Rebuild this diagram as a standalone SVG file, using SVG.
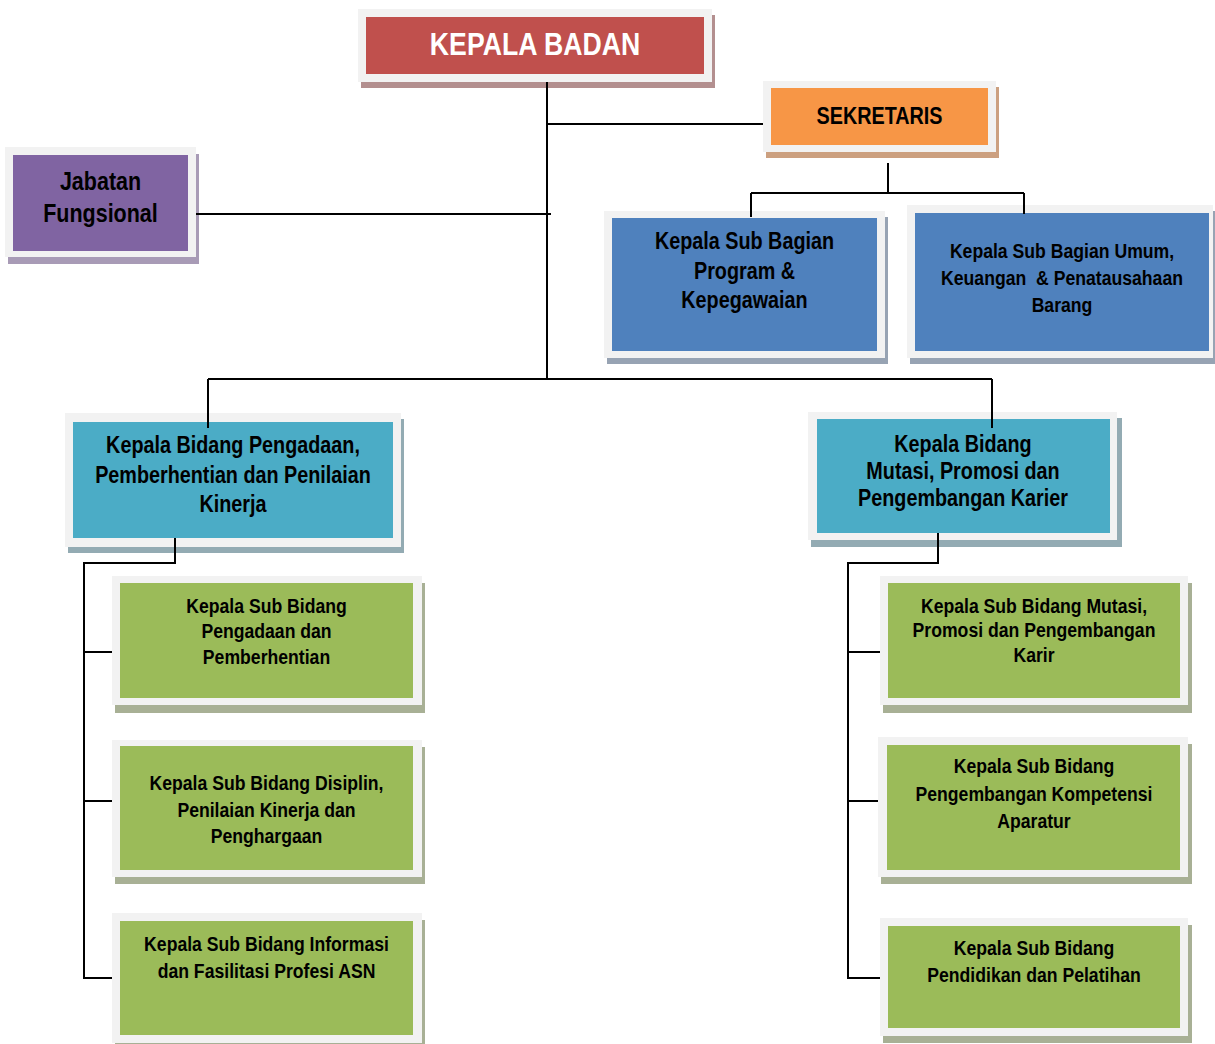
<svg xmlns="http://www.w3.org/2000/svg" width="1215" height="1044" viewBox="0 0 1215 1044">
<style>
.frame{fill:#F2F2F2}
.t{font-family:"Liberation Sans",Arial,sans-serif;font-weight:bold;fill:#000;text-anchor:middle}
.w{fill:#fff}
.conn{fill:none;stroke:#000;stroke-width:2}
</style>
<rect width="1215" height="1044" fill="#fff"/>
<g id="kepala-badan">
<rect x="361" y="15" width="354" height="73" fill="#B38F8F"/>
<rect class="frame" x="358" y="9" width="354" height="73"/>
<rect x="366" y="17" width="338" height="57" fill="#C0504D"/>
<text class="t w" transform="translate(535 0) scale(0.86 1)" font-size="31"><tspan x="0" y="55">KEPALA BADAN</tspan></text>
</g>
<g id="sekretaris">
<rect x="766" y="87" width="233" height="71" fill="#CCA080"/>
<rect class="frame" x="763" y="81" width="233" height="71"/>
<rect x="771" y="88" width="217" height="57" fill="#F79646"/>
<text class="t" transform="translate(879.5 0) scale(0.86 1)" font-size="23"><tspan x="0" y="124">SEKRETARIS</tspan></text>
</g>
<g id="jabatan-fungsional">
<rect x="8" y="154" width="191" height="110" fill="#A89BB6"/>
<rect class="frame" x="5" y="147" width="191" height="110"/>
<rect x="13" y="155" width="175" height="96" fill="#8064A2"/>
<text class="t" transform="translate(100.5 0) scale(0.86 1)" font-size="25"><tspan x="0" y="190">Jabatan</tspan><tspan x="0" y="222">Fungsional</tspan></text>
</g>
<g id="subbag-program">
<rect x="607" y="217" width="281" height="147" fill="#97A3B3"/>
<rect class="frame" x="604" y="211" width="281" height="147"/>
<rect x="612" y="218" width="265" height="133" fill="#4F81BD"/>
<text class="t" transform="translate(744.5 0) scale(0.86 1)" font-size="23"><tspan x="0" y="249">Kepala Sub Bagian</tspan><tspan x="0" y="279">Program &amp;</tspan><tspan x="0" y="308">Kepegawaian</tspan></text>
</g>
<g id="subbag-umum">
<rect x="910" y="211" width="310" height="153" fill="#97A3B3"/>
<rect class="frame" x="907" y="205" width="306" height="153"/>
<rect x="915" y="213" width="294" height="138" fill="#4F81BD"/>
<text class="t" transform="translate(1062 0) scale(0.84 1)" font-size="21" style="white-space:pre"><tspan x="0" y="258">Kepala Sub Bagian Umum,</tspan><tspan x="0" y="285">Keuangan  &amp; Penatausahaan</tspan><tspan x="0" y="312">Barang</tspan></text>
</g>
<g id="bidang-pengadaan">
<rect x="68" y="419" width="336" height="134" fill="#93ABB3"/>
<rect class="frame" x="65" y="413" width="336" height="134"/>
<rect x="73" y="422" width="320" height="116" fill="#4BACC6"/>
<text class="t" transform="translate(233 0) scale(0.86 1)" font-size="23"><tspan x="0" y="453">Kepala Bidang Pengadaan,</tspan><tspan x="0" y="483">Pemberhentian dan Penilaian</tspan><tspan x="0" y="512">Kinerja</tspan></text>
</g>
<g id="bidang-mutasi">
<rect x="811" y="418" width="311" height="129" fill="#93ABB3"/>
<rect class="frame" x="808" y="412" width="309" height="128"/>
<rect x="817" y="419" width="293" height="114" fill="#4BACC6"/>
<text class="t" transform="translate(963 0) scale(0.86 1)" font-size="23"><tspan x="0" y="452">Kepala Bidang</tspan><tspan x="0" y="479">Mutasi, Promosi dan</tspan><tspan x="0" y="506">Pengembangan Karier</tspan></text>
</g>
<g id="subbid-pengadaan">
<rect x="115" y="583" width="310" height="130" fill="#A8B095"/>
<rect class="frame" x="112" y="576" width="310" height="129"/>
<rect x="120" y="583" width="293" height="115" fill="#9BBB59"/>
<text class="t" transform="translate(266.5 0) scale(0.86 1)" font-size="20.5"><tspan x="0" y="613">Kepala Sub Bidang</tspan><tspan x="0" y="638">Pengadaan dan</tspan><tspan x="0" y="664">Pemberhentian</tspan></text>
</g>
<g id="subbid-disiplin">
<rect x="115" y="747" width="310" height="137" fill="#A8B095"/>
<rect class="frame" x="112" y="740" width="310" height="137"/>
<rect x="120" y="746" width="293" height="124" fill="#9BBB59"/>
<text class="t" transform="translate(266.5 0) scale(0.86 1)" font-size="20.5"><tspan x="0" y="790">Kepala Sub Bidang Disiplin,</tspan><tspan x="0" y="817">Penilaian Kinerja dan</tspan><tspan x="0" y="843">Penghargaan</tspan></text>
</g>
<g id="subbid-informasi">
<rect x="115" y="920" width="310" height="130" fill="#A8B095"/>
<rect class="frame" x="112" y="913" width="310" height="130"/>
<rect x="120" y="921" width="293" height="114" fill="#9BBB59"/>
<text class="t" transform="translate(266.5 0) scale(0.86 1)" font-size="20.5"><tspan x="0" y="951">Kepala Sub Bidang Informasi</tspan><tspan x="0" y="978">dan Fasilitasi Profesi ASN</tspan></text>
</g>
<g id="subbid-mutasi">
<rect x="883" y="583" width="309" height="130" fill="#A8B095"/>
<rect class="frame" x="880" y="576" width="308" height="129"/>
<rect x="888" y="583" width="292" height="115" fill="#9BBB59"/>
<text class="t" transform="translate(1034 0) scale(0.86 1)" font-size="20.5"><tspan x="0" y="613">Kepala Sub Bidang Mutasi,</tspan><tspan x="0" y="637">Promosi dan Pengembangan</tspan><tspan x="0" y="662">Karir</tspan></text>
</g>
<g id="subbid-kompetensi">
<rect x="881" y="744" width="311" height="140" fill="#A8B095"/>
<rect class="frame" x="878" y="737" width="310" height="140"/>
<rect x="887" y="745" width="293" height="125" fill="#9BBB59"/>
<text class="t" transform="translate(1034 0) scale(0.86 1)" font-size="20.5"><tspan x="0" y="773">Kepala Sub Bidang</tspan><tspan x="0" y="801">Pengembangan Kompetensi</tspan><tspan x="0" y="828">Aparatur</tspan></text>
</g>
<g id="subbid-diklat">
<rect x="883" y="925" width="309" height="118" fill="#A8B095"/>
<rect class="frame" x="880" y="918" width="308" height="118"/>
<rect x="888" y="926" width="292" height="102" fill="#9BBB59"/>
<text class="t" transform="translate(1034 0) scale(0.86 1)" font-size="20.5"><tspan x="0" y="955">Kepala Sub Bidang</tspan><tspan x="0" y="982">Pendidikan dan Pelatihan</tspan></text>
</g>
<g id="connectors" class="conn">
<path d="M547 82V379"/>
<path d="M547 124H763"/>
<path d="M196 214H551"/>
<path d="M888 163V193"/>
<path d="M751 193H1024"/>
<path d="M751 193V217"/>
<path d="M1024 193V214"/>
<path d="M208 379H992"/>
<path d="M208 379V428"/>
<path d="M992 379V428"/>
<path d="M175 538V563H84V978H112"/>
<path d="M84 652H112"/>
<path d="M84 801H112"/>
<path d="M938 533V563H848V978H880"/>
<path d="M848 652H880"/>
<path d="M848 801H878"/>
</g>
</svg>
